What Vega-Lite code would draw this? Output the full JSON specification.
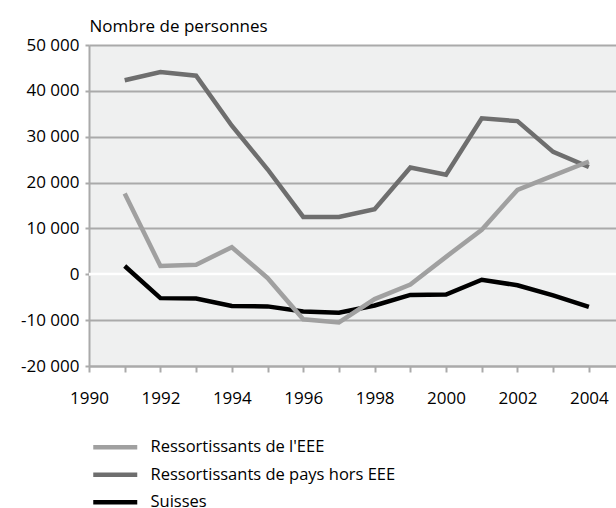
{
  "$schema": "https://vega.github.io/schema/vega-lite/v6.json",
  "width": 527,
  "height": 321,
  "autosize": "none",
  "padding": {"left": 89, "top": 45, "right": 0, "bottom": 142},
  "background": "white",
  "config": {
    "font": "Open Sans",
    "view": {"fill": "#eff0f0", "stroke": null},
    "axis": {"labelFont": "Open Sans", "titleFont": "Open Sans", "labelColor": "#000", "titleColor": "#000", "labelFontSize": 17, "titleFontSize": 17, "titleFontWeight": "normal"},
    "legend": {"labelFont": "Open Sans", "labelFontSize": 16.5, "labelColor": "#000"}
  },
  "data": {"values": [
    {"year": 1991, "serie": "Suisses", "v": 1800},
    {"year": 1992, "serie": "Suisses", "v": -5200},
    {"year": 1993, "serie": "Suisses", "v": -5300},
    {"year": 1994, "serie": "Suisses", "v": -6900},
    {"year": 1995, "serie": "Suisses", "v": -7000},
    {"year": 1996, "serie": "Suisses", "v": -8100},
    {"year": 1997, "serie": "Suisses", "v": -8400},
    {"year": 1998, "serie": "Suisses", "v": -6800},
    {"year": 1999, "serie": "Suisses", "v": -4500},
    {"year": 2000, "serie": "Suisses", "v": -4400},
    {"year": 2001, "serie": "Suisses", "v": -1200},
    {"year": 2002, "serie": "Suisses", "v": -2400},
    {"year": 2003, "serie": "Suisses", "v": -4600},
    {"year": 2004, "serie": "Suisses", "v": -7100},
    {"year": 1991, "serie": "Ressortissants de pays hors EEE", "v": 42300},
    {"year": 1992, "serie": "Ressortissants de pays hors EEE", "v": 44100},
    {"year": 1993, "serie": "Ressortissants de pays hors EEE", "v": 43300},
    {"year": 1994, "serie": "Ressortissants de pays hors EEE", "v": 32400},
    {"year": 1995, "serie": "Ressortissants de pays hors EEE", "v": 22900},
    {"year": 1996, "serie": "Ressortissants de pays hors EEE", "v": 12500},
    {"year": 1997, "serie": "Ressortissants de pays hors EEE", "v": 12500},
    {"year": 1998, "serie": "Ressortissants de pays hors EEE", "v": 14200},
    {"year": 1999, "serie": "Ressortissants de pays hors EEE", "v": 23300},
    {"year": 2000, "serie": "Ressortissants de pays hors EEE", "v": 21700},
    {"year": 2001, "serie": "Ressortissants de pays hors EEE", "v": 34000},
    {"year": 2002, "serie": "Ressortissants de pays hors EEE", "v": 33400},
    {"year": 2003, "serie": "Ressortissants de pays hors EEE", "v": 26700},
    {"year": 2004, "serie": "Ressortissants de pays hors EEE", "v": 23400},
    {"year": 1991, "serie": "Ressortissants de l'EEE", "v": 17600},
    {"year": 1992, "serie": "Ressortissants de l'EEE", "v": 1800},
    {"year": 1993, "serie": "Ressortissants de l'EEE", "v": 2100},
    {"year": 1994, "serie": "Ressortissants de l'EEE", "v": 5900},
    {"year": 1995, "serie": "Ressortissants de l'EEE", "v": -800},
    {"year": 1996, "serie": "Ressortissants de l'EEE", "v": -9800},
    {"year": 1997, "serie": "Ressortissants de l'EEE", "v": -10500},
    {"year": 1998, "serie": "Ressortissants de l'EEE", "v": -5400},
    {"year": 1999, "serie": "Ressortissants de l'EEE", "v": -2250},
    {"year": 2000, "serie": "Ressortissants de l'EEE", "v": 3800},
    {"year": 2001, "serie": "Ressortissants de l'EEE", "v": 9700},
    {"year": 2002, "serie": "Ressortissants de l'EEE", "v": 18400},
    {"year": 2003, "serie": "Ressortissants de l'EEE", "v": 21500},
    {"year": 2004, "serie": "Ressortissants de l'EEE", "v": 24600}
  ]},
  "encoding": {
    "x": {
      "field": "year", "type": "quantitative",
      "scale": {"domain": [1990, 2004.76], "nice": false, "zero": false},
      "axis": {
        "title": null, "grid": false,
        "values": [1990,1991,1992,1993,1994,1995,1996,1997,1998,1999,2000,2001,2002,2003,2004],
        "labelExpr": "datum.value % 2 == 0 ? format(datum.value, 'd') : ''",
        "domainColor": "#aaaaaa", "domainWidth": 2, "tickColor": "#aaaaaa", "tickWidth": 2, "tickSize": 6, "labelPadding": 18, "labelFlush": false
      }
    },
    "y": {
      "field": "v", "type": "quantitative",
      "scale": {"domain": [-20000, 50000], "nice": false},
      "axis": {
        "title": "Nombre de personnes", "titleAngle": 0, "titleAlign": "left", "titleX": 0, "titleY": -10, "titleBaseline": "bottom",
        "values": [-20000,-10000,0,10000,20000,30000,40000,50000],
        "labelExpr": "(datum.value < 0 ? '-' : '') + replace(format(abs(datum.value), ','), ',', ' ')",
        "grid": true, "gridColor": "#aaaaaa", "gridWidth": 2,
        "domainColor": "#aaaaaa", "domainWidth": 2, "tickColor": "#aaaaaa", "tickWidth": 2, "tickSize": 4, "labelPadding": 6
      }
    },
    "color": {
      "field": "serie", "type": "nominal",
      "scale": {"domain": ["Ressortissants de l'EEE", "Ressortissants de pays hors EEE", "Suisses"], "range": ["#a0a0a0", "#6e6e6e", "#000000"]},
      "legend": {"title": null, "orient": "none", "legendX": 18, "legendY": 394, "direction": "vertical", "symbolType": "M-4,0H4", "symbolStrokeWidth": 4.5, "symbolSize": 121, "rowPadding": 8.5, "labelOffset": 27, "labelLimit": 0}
    }
  },
  "layer": [
    {
      "data": {"values": [{"z": 0}]},
      "mark": {"type": "rule", "color": "white", "strokeWidth": 3},
      "encoding": {"y": {"field": "z", "type": "quantitative"}, "x": null, "color": null}
    },
    {
      "transform": [{"filter": "datum.serie == 'Suisses'"}],
      "mark": {"type": "line", "strokeWidth": 4.5}
    },
    {
      "transform": [{"filter": "datum.serie == 'Ressortissants de pays hors EEE'"}],
      "mark": {"type": "line", "strokeWidth": 4.5}
    },
    {
      "transform": [{"filter": "datum.serie == \"Ressortissants de l'EEE\""}],
      "mark": {"type": "line", "strokeWidth": 4.5}
    }
  ]
}
